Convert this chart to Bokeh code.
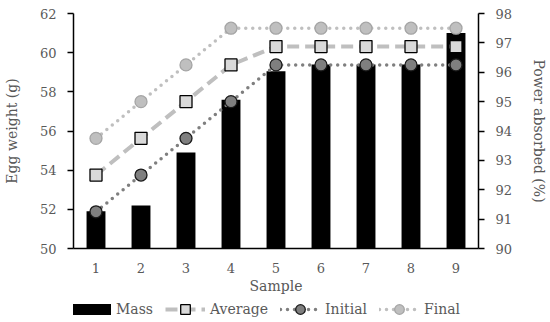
from bokeh.plotting import figure
from bokeh.layouts import column
from bokeh.models import Range1d, LinearAxis, FixedTicker, Legend, LegendItem, FactorRange
from bokeh.embed import file_html
from bokeh.resources import INLINE

samples = ["1", "2", "3", "4", "5", "6", "7", "8", "9"]
mass = [51.9, 52.2, 54.9, 57.6, 59.05, 59.4, 59.4, 59.4, 61.0]
average = [92.5, 93.75, 95.0, 96.25, 96.875, 96.875, 96.875, 96.875, 96.875]
initial = [91.25, 92.5, 93.75, 95.0, 96.25, 96.25, 96.25, 96.25, 96.25]
final = [93.75, 95.0, 96.25, 97.5, 97.5, 97.5, 97.5, 97.5, 97.5]
left_ticks = [50, 52, 54, 56, 58, 60, 62]
right_ticks = [90, 91, 92, 93, 94, 95, 96, 97, 98]
series_names = ["Mass", "Average", "Initial", "Final"]

FONT = "DejaVu Serif"
TXT = "#595959"

AVG_LINE = dict(line_color="#bfbfbf", line_width=4, line_dash="12 6")
INI_LINE = dict(line_color="#7f7f7f", line_width=3.5, line_dash="0 7", line_cap="round")
FIN_LINE = dict(line_color="#bfbfbf", line_width=3.5, line_dash="0 7", line_cap="round")
AVG_PTS = dict(marker="square", fill_color="#d9d9d9", line_color="black", line_width=1.3)
INI_PTS = dict(marker="circle", fill_color="#7f7f7f", line_color="#1a1a1a", line_width=1.3)
FIN_PTS = dict(marker="circle", fill_color="#bfbfbf", line_color="#a5a5a5", line_width=1.3)

p = figure(x_range=FactorRange(*samples), y_range=Range1d(50, 62),
           width=550, height=297, output_backend="svg", toolbar_location=None,
           min_border_left=71, min_border_right=72, min_border_top=13,
           min_border_bottom=49)
p.extra_y_ranges = {"right": Range1d(90, 98)}
p.xgrid.visible = False
p.ygrid.visible = False
p.outline_line_color = None

p.vbar(x=samples, top=mass, bottom=50, width=0.42, fill_color="black", line_color=None)
p.line(samples, average, y_range_name="right", **AVG_LINE)
p.line(samples, initial, y_range_name="right", **INI_LINE)
p.line(samples, final, y_range_name="right", **FIN_LINE)
p.scatter(samples, average, y_range_name="right", size=12, **AVG_PTS)
p.scatter(samples, initial, y_range_name="right", size=12, **INI_PTS)
p.scatter(samples, final, y_range_name="right", size=12, **FIN_PTS)

def style_axis(ax):
    ax.axis_line_color = "black"
    ax.axis_line_width = 1.5
    ax.major_tick_line_color = "black"
    ax.major_tick_line_width = 1.5
    ax.major_tick_out = 6
    ax.major_tick_in = 0
    ax.minor_tick_line_color = None
    ax.major_label_text_font = FONT
    ax.major_label_text_font_size = "13px"
    ax.major_label_text_color = TXT
    ax.axis_label_text_font = FONT
    ax.axis_label_text_font_size = "14px"
    ax.axis_label_text_font_style = "normal"
    ax.axis_label_text_color = TXT

left = p.yaxis[0]
style_axis(left)
left.ticker = FixedTicker(ticks=left_ticks)
left.axis_label = "Egg weight (g)"
left.major_label_standoff = 11
left.axis_label_standoff = 17

right = LinearAxis(y_range_name="right", ticker=FixedTicker(ticks=right_ticks))
style_axis(right)
right.axis_label = "Power absorbed (%)"
right.major_label_standoff = 11
right.axis_label_standoff = 16
p.add_layout(right, "right")

xa = p.xaxis[0]
style_axis(xa)
xa.major_tick_line_color = None
xa.major_tick_out = 0
xa.axis_label = "Sample"
xa.major_label_standoff = 14
xa.axis_label_standoff = 2

# legend strip below the chart (frames of the two figures are aligned)
lg = figure(width=550, height=24, output_backend="svg", toolbar_location=None,
            x_range=Range1d(0, 1), y_range=Range1d(0, 1),
            min_border_left=71, min_border_right=72,
            min_border_top=0, min_border_bottom=0)
lg.axis.visible = False
lg.grid.visible = False
lg.outline_line_color = None
off = [5, 6]
r_mass = lg.line(off, off, line_color="black", line_width=11)
r_avg = [lg.line(off, off, **AVG_LINE), lg.scatter(off, off, **AVG_PTS)]
r_ini = [lg.line(off, off, **INI_LINE), lg.scatter(off, off, **INI_PTS)]
r_fin = [lg.line(off, off, **FIN_LINE), lg.scatter(off, off, **FIN_PTS)]

legend = Legend(items=[
    LegendItem(label=series_names[0], renderers=[r_mass]),
    LegendItem(label=series_names[1], renderers=r_avg),
    LegendItem(label=series_names[2], renderers=r_ini),
    LegendItem(label=series_names[3], renderers=r_fin),
], orientation="horizontal", location=(-2, 0),
    glyph_width=40, glyph_height=24, label_standoff=5, spacing=12,
    padding=0, margin=0, border_line_color=None, background_fill_alpha=0,
    label_text_font=FONT, label_text_font_size="14px", label_text_color=TXT)
lg.add_layout(legend, "center")

layout = column(p, lg, spacing=0)
open("out.html", "w").write(file_html(layout, INLINE))
